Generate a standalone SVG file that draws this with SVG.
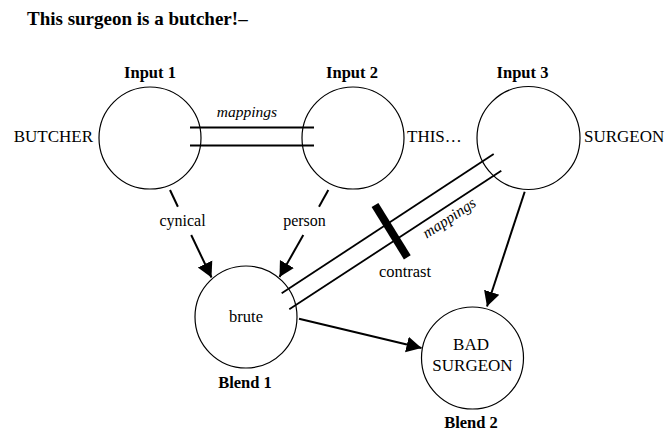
<svg xmlns="http://www.w3.org/2000/svg" width="666" height="432" viewBox="0 0 666 432">
<style>
text{font-family:"Liberation Serif","Times New Roman",serif;fill:#000}
.t{font-size:19px;font-weight:bold}
.lbl{font-size:16.5px;font-weight:bold;text-anchor:middle}
.cap{font-size:17px}
.lc{font-size:16px;text-anchor:middle}
.it{font-size:15.5px;font-style:italic;text-anchor:middle}
.node{fill:#fff;stroke:#000;stroke-width:1.2}
.con{stroke:#000;stroke-width:2;fill:none}
.dbl{stroke:#000;stroke-width:1.8;fill:none}
</style>
<defs>
<marker id="ah" markerUnits="userSpaceOnUse" markerWidth="16" markerHeight="18" refX="15" refY="8" orient="auto" viewBox="0 0 16 16">
<path d="M0,0 L15,8 L0,16 z" fill="#000"/>
</marker>
</defs>
<rect width="666" height="432" fill="#fff"/>
<text class="t" x="27" y="25">This surgeon is a butcher!–</text>

<g id="input1">
<circle class="node" cx="150" cy="138" r="51"/>
<text class="lbl" x="150" y="78">Input 1</text>
<text class="cap" x="93" y="141.5" text-anchor="end">BUTCHER</text>
</g>
<g id="input2">
<circle class="node" cx="353" cy="138" r="51"/>
<text class="lbl" x="352" y="78">Input 2</text>
<text class="cap" x="407" y="141.5">THIS…</text>
</g>
<g id="input3">
<circle class="node" cx="528.5" cy="138" r="51.5"/>
<text class="lbl" x="522.5" y="78">Input 3</text>
<text class="cap" x="584" y="141.5">SURGEON</text>
</g>
<g id="blend1">
<circle class="node" cx="246" cy="317" r="51"/>
<text class="lc" x="246" y="322" style="font-size:16.5px">brute</text>
<text class="lbl" x="245" y="388">Blend 1</text>
</g>
<g id="blend2">
<circle class="node" cx="472.5" cy="358" r="51"/>
<text class="cap" x="471" y="350" text-anchor="middle">BAD</text>
<text class="cap" x="472.5" y="371" text-anchor="middle">SURGEON</text>
<text class="lbl" x="471" y="428">Blend 2</text>
</g>

<g id="connectors">
<line class="dbl" x1="190" y1="127.5" x2="314" y2="127.5"/>
<line class="dbl" x1="190" y1="145.5" x2="314" y2="145.5"/>
<text class="it" x="247" y="117">mappings</text>

<line class="con" x1="170" y1="190" x2="177.9" y2="206.7"/>
<line class="con" x1="191.2" y1="235" x2="211.5" y2="277.5" marker-end="url(#ah)"/>
<text class="lc" x="182.5" y="226">cynical</text>

<line class="con" x1="328.3" y1="190" x2="319" y2="206.7"/>
<line class="con" x1="303.3" y1="235" x2="279.5" y2="277" marker-end="url(#ah)"/>
<text class="lc" x="304.5" y="226">person</text>

<line class="dbl" x1="281.7" y1="293.3" x2="493.7" y2="154"/>
<line class="dbl" x1="289.3" y1="309.3" x2="501.3" y2="170.7"/>
<line x1="375" y1="205" x2="407.3" y2="257.3" stroke="#000" stroke-width="8"/>
<text class="lc" x="405" y="277" style="font-size:16.5px">contrast</text>
<text class="it" x="0" y="0" transform="translate(452,222) rotate(-33.5)">mappings</text>

<line class="con" x1="299" y1="318.7" x2="421.5" y2="348" marker-end="url(#ah)"/>
<line class="con" x1="524.7" y1="191.7" x2="487" y2="306.5" marker-end="url(#ah)"/>
</g>
</svg>
